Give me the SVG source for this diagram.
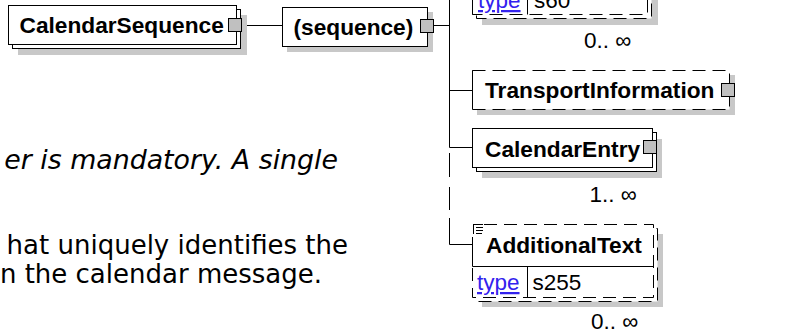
<svg xmlns="http://www.w3.org/2000/svg" width="793" height="333" viewBox="0 0 793 333">
<style>
.bx{fill:#fff;stroke:#000;stroke-width:1}
.wf{fill:#fff;stroke:none}
.dl{fill:none;stroke:#000;stroke-width:1;stroke-dasharray:13 7}
.sl{fill:none;stroke:#000;stroke-width:1}
.sh{fill:#c8c8c8}
.sq{fill:#c0c0c0;stroke:#000;stroke-width:1}
.nm{font-family:"Liberation Sans",Arial,sans-serif;font-weight:bold;font-size:22.7px;fill:#000}
.rg{font-family:"Liberation Sans",Arial,sans-serif;font-size:22.5px;fill:#000}
.ty{fill:#3322ee;text-decoration:underline}
.doc{font-family:"DejaVu Sans",Verdana,sans-serif;font-size:26px;fill:#000}
.cn{fill:none;stroke:#000;stroke-width:1}
</style>
<g id="documentation">
<text class="doc" font-style="italic" font-size="26.8" x="338" y="169" text-anchor="end" style="font-size:26.8px">er is mandatory. A single</text>
<text class="doc" x="348" y="254" text-anchor="end">hat uniquely identifies the</text>
<text class="doc" x="322" y="283" text-anchor="end">n the calendar message.</text>
</g>
<g id="connectors">
<path class="cn" d="M241.5,25.5 H282.5"/>
<path class="cn" d="M433.5,25.5 H449.5"/>
<path class="cn" d="M449.5,0 V147.5"/>
<path class="cn" d="M449.5,90.5 H472.5"/>
<path class="cn" d="M449.5,147.5 H472.5"/>
<path class="cn" d="M449.5,153 V177 M449.5,187 V210 M449.5,218 V244.5 H472.5"/>
</g>
<g id="CalendarSequence">
<rect class="sh" x="18" y="15" width="229" height="40"/>
<rect class="bx" x="12.5" y="9.5" width="228" height="39"/>
<rect class="bx" x="8.5" y="5.5" width="228" height="39"/>
<text class="nm" x="19.5" y="33">CalendarSequence</text>
<rect class="sq" x="228.5" y="18.5" width="13" height="13"/>
</g>
<g id="sequence">
<rect class="sh" x="287" y="12" width="146" height="40"/>
<rect class="bx" x="282.5" y="7.5" width="145" height="39"/>
<text class="nm" x="293.5" y="35">(sequence)</text>
<rect class="sq" x="420.5" y="19.5" width="13" height="13"/>
</g>
<g id="s60Element">
<rect class="sh" x="482" y="-35" width="176" height="60"/>
<rect class="wf" x="476.5" y="-41.5" width="175" height="60"/>
<rect class="dl" x="476.5" y="-41.5" width="175" height="60"/>
<rect class="wf" x="472.5" y="-45.5" width="175" height="60"/>
<rect class="dl" x="472.5" y="-45.5" width="175" height="60"/>
<path class="sl" d="M472.5,-16 V14.5 M472.5,-15.5 H647.5 M527.5,-15.5 V14.5"/>
<text class="rg ty" x="478" y="8">type</text>
<text class="rg" x="534" y="8">s60</text>
<text class="rg" x="584" y="48">0.. ∞</text>
</g>
<g id="TransportInformation">
<rect class="sh" x="477" y="75" width="258" height="40"/>
<rect class="wf" x="472.5" y="70.5" width="257" height="39"/>
<rect class="dl" x="472.5" y="70.5" width="257" height="39"/>
<path class="sl" d="M472.5,70.5 V109.5"/>
<text class="nm" x="485" y="98">TransportInformation</text>
<rect class="sq" x="721.5" y="83.5" width="13" height="13"/>
</g>
<g id="CalendarEntry">
<rect class="sh" x="482" y="139" width="180" height="39"/>
<rect class="bx" x="476.5" y="132.5" width="180" height="39"/>
<rect class="bx" x="472.5" y="128.5" width="180" height="39"/>
<text class="nm" x="485" y="156.5">CalendarEntry</text>
<rect class="sq" x="643.5" y="140.5" width="13" height="13"/>
<text class="rg" x="589.5" y="202">1.. ∞</text>
</g>
<g id="AdditionalText">
<rect class="sh" x="482" y="234" width="181" height="73"/>
<rect class="wf" x="476.5" y="228.5" width="181" height="73"/>
<rect class="dl" x="476.5" y="228.5" width="181" height="73"/>
<rect class="wf" x="472.5" y="224.5" width="181" height="73"/>
<path class="dl" d="M484,224.5 H653.5 V297.5 H472.5 V266.5"/>
<path class="sl" d="M472.5,266.5 V237 M472.5,266.5 H653.5 M527.5,266.5 V297.5"/>
<path class="sl" d="M473.5,224 V234 M473,224.5 H483 M476,227.5 H483 M476,230.5 H483 M476,233.5 H482"/>
<text class="nm" x="486" y="253">AdditionalText</text>
<text class="rg ty" x="477" y="290">type</text>
<text class="rg" x="532.5" y="290">s255</text>
<text class="rg" x="591" y="329">0.. ∞</text>
</g>
</svg>
